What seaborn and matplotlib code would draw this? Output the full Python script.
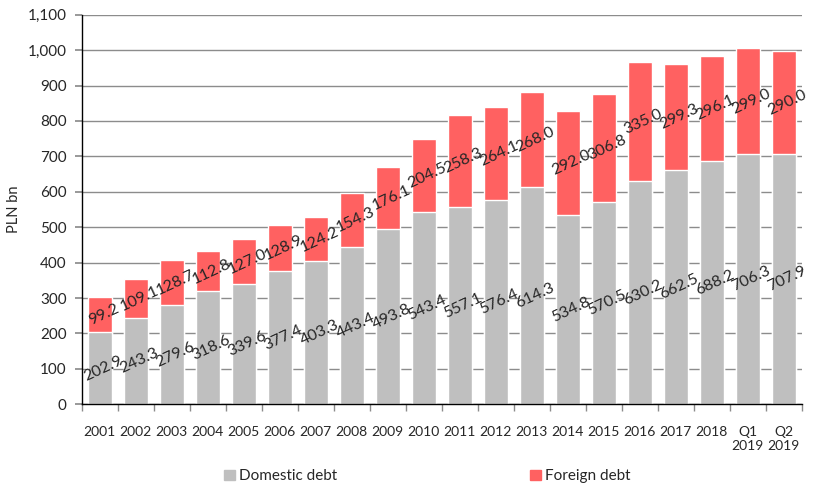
import seaborn as sns
import matplotlib.pyplot as plt
import pandas as pd
from matplotlib.patches import Patch
from matplotlib.ticker import FuncFormatter, MultipleLocator

periods = ['2001', '2002', '2003', '2004', '2005', '2006', '2007', '2008', '2009', '2010',
           '2011', '2012', '2013', '2014', '2015', '2016', '2017', '2018', 'Q1\n2019', 'Q2\n2019']
domestic = [202.9, 243.3, 279.6, 318.6, 339.6, 377.4, 403.3, 443.4, 493.8, 543.4,
            557.1, 576.4, 614.3, 534.8, 570.5, 630.2, 662.5, 688.2, 706.3, 707.9]
foreign = [99.2, 109.1, 128.7, 112.8, 127.0, 128.9, 124.2, 154.3, 176.1, 204.5,
           258.3, 264.1, 268.0, 292.0, 306.8, 335.0, 299.3, 296.1, 299.0, 290.0]

gray = '#BFBFBF'
red = '#FF6161'

data = pd.DataFrame({'Period': periods, 'Domestic': domestic, 'Foreign': foreign})
data['Total'] = data['Domestic'] + data['Foreign']

sns.set_theme(style='white')
plt.rcParams['font.family'] = ['Lato', 'DejaVu Sans']

fig, ax = plt.subplots(figsize=(8.18, 4.9), dpi=100)

# total first in red, domestic over it in gray
sns.barplot(data=data, x='Period', y='Total', color=red, width=0.66, saturation=1, ax=ax)
sns.barplot(data=data, x='Period', y='Domestic', color=gray, width=0.66, saturation=1, ax=ax)

for i, (d, f) in enumerate(zip(domestic, foreign)):
    ax.text(i + 0.1, d / 2, f'{d:.1f}', rotation=25, ha='center', va='center', fontsize=11.5)
    ax.text(i + 0.1, d + f / 2, f'{f:.1f}', rotation=25, ha='center', va='center', fontsize=11.5)

ax.set_ylim(0, 1100)
ax.set_xlim(-0.5, len(periods) - 0.5)
ax.yaxis.set_major_locator(MultipleLocator(100))
ax.yaxis.set_major_formatter(FuncFormatter(lambda v, p: f'{v:,.0f}'))
ax.yaxis.grid(True, color='#8C8C8C', linewidth=1)
ax.set_axisbelow(True)
ax.set_xlabel('')
ax.set_ylabel('PLN bn', fontsize=10.5, labelpad=5)

for s in ['top', 'right']:
    ax.spines[s].set_visible(False)
for s in ['left', 'bottom']:
    ax.spines[s].set_color('black')
    ax.spines[s].set_linewidth(1)

ax.tick_params(axis='y', left=True, length=5, color='#8C8C8C', labelsize=11, pad=6)
ax.tick_params(axis='x', bottom=False, labelsize=10, pad=10)
ax.set_xticks(range(len(periods)))
ax.set_xticklabels(periods, va='top')
ax.set_xticks([i - 0.5 for i in range(len(periods) + 1)], minor=True)
ax.tick_params(axis='x', which='minor', bottom=True, length=5, color='#8C8C8C')

handles = [Patch(color=gray, label='Domestic debt'), Patch(color=red, label='Foreign debt')]
ax.legend(handles=handles, loc='center', bbox_to_anchor=(0.48, -0.185), ncol=2,
          frameon=False, fontsize=11, handlelength=0.7, handleheight=0.7,
          handletextpad=0.3, columnspacing=12.6)

plt.subplots_adjust(left=0.1, right=0.98, top=0.97, bottom=0.175)
plt.savefig('out.png', dpi=100)
